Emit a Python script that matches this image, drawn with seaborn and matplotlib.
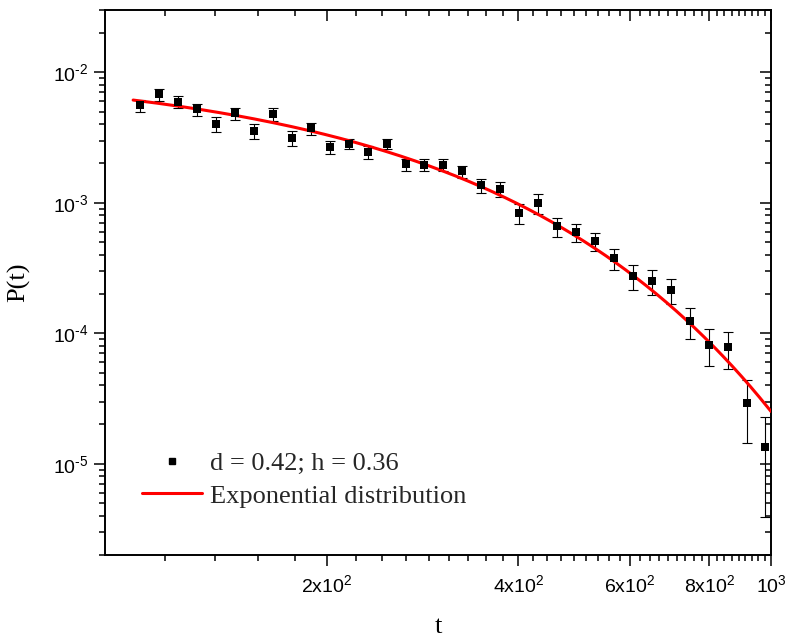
import numpy as np
import matplotlib
matplotlib.use("Agg")
import matplotlib.pyplot as plt
import seaborn as sns
from matplotlib.lines import Line2D
from matplotlib.ticker import FixedLocator, FixedFormatter, LogLocator, NullFormatter

# Measured waiting-time distribution
t = [101.6, 108.8, 116.6, 124.9, 133.7, 143.2, 153.4, 164.3, 176.0, 188.5,
     201.9, 216.3, 231.7, 248.1, 265.8, 284.7, 304.9, 326.6, 349.8, 374.7,
     401.3, 429.9, 460.4, 493.2, 528.2, 565.8, 606.0, 649.1, 695.2, 744.7,
     797.6, 854.3, 915.1, 980.2]
p = [5.59e-3, 6.78e-3, 5.94e-3, 5.21e-3, 4.03e-3, 4.85e-3, 3.56e-3, 4.77e-3,
     3.12e-3, 3.72e-3, 2.66e-3, 2.81e-3, 2.44e-3, 2.81e-3, 1.97e-3, 1.95e-3,
     1.95e-3, 1.74e-3, 1.36e-3, 1.27e-3, 8.31e-4, 9.91e-4, 6.61e-4, 5.94e-4,
     5.07e-4, 3.76e-4, 2.74e-4, 2.50e-4, 2.14e-4, 1.24e-4, 8.2e-5, 7.8e-5,
     2.9e-5, 1.34e-5]
p_err = [5.9e-4, 7.2e-4, 6.3e-4, 5.5e-4, 5.2e-4, 5.1e-4, 4.6e-4, 5.1e-4,
         4.0e-4, 3.9e-4, 2.9e-4, 2.5e-4, 2.6e-4, 2.5e-4, 2.1e-4, 2.1e-4,
         2.1e-4, 1.8e-4, 1.7e-4, 1.6e-4, 1.4e-4, 1.7e-4, 1.1e-4, 9.0e-5,
         8.0e-5, 7.0e-5, 5.8e-5, 5.3e-5, 4.5e-5, 3.3e-5, 2.6e-5, 2.45e-5,
         1.46e-5, 0.95e-5]

# Exponential model P(t) = A exp(-t / tau)
fit_amp = 1.12e-2
fit_tau = 164.0
fit_range = (99.0, 1000.0)

data_label = "d = 0.42; h = 0.36"
fit_label = "Exponential distribution"

x_major = [200, 400, 600, 800, 1000]
x_major_labels = [r"$\mathregular{2x10^{2}}$", r"$\mathregular{4x10^{2}}$",
                  r"$\mathregular{6x10^{2}}$", r"$\mathregular{8x10^{2}}$",
                  r"$\mathregular{10^{3}}$"]
y_major = [1e-5, 1e-4, 1e-3, 1e-2]
y_major_labels = [r"$\mathregular{10^{\text{-}5}}$", r"$\mathregular{10^{\text{-}4}}$",
                  r"$\mathregular{10^{\text{-}3}}$", r"$\mathregular{10^{\text{-}2}}$"]

sns.set_theme(style="ticks")
plt.rcParams["font.family"] = ["Liberation Sans", "DejaVu Sans"]
plt.rcParams["mathtext.fontset"] = "custom"
plt.rcParams["mathtext.rm"] = "Liberation Sans"
plt.rcParams["mathtext.it"] = "Liberation Sans:italic"
plt.rcParams["mathtext.bf"] = "Liberation Sans:bold"

serif = ["Liberation Serif", "DejaVu Serif"]

fig = plt.figure(figsize=(7.88, 6.43), dpi=100)
ax = fig.add_axes([105 / 788, 1 - 555 / 643, 666 / 788, 545 / 643])

ax.errorbar(t, p, yerr=p_err, fmt="none", ecolor="black", elinewidth=0.8,
            capsize=3.6, capthick=0.8, zorder=2)

fit_t = np.linspace(fit_range[0], fit_range[1], 400)
fit_p = fit_amp * np.exp(-fit_t / fit_tau)
sns.lineplot(x=fit_t, y=fit_p, color="#ff0000", linewidth=2.2, ax=ax,
             zorder=3, legend=False)

sns.scatterplot(x=t, y=p, marker="s", s=26, color="black", edgecolor="black",
                linewidth=0, ax=ax, zorder=4, legend=False)

ax.set_xscale("log")
ax.set_yscale("log")
ax.set_xlim(89.4, 1000)
ax.set_ylim(2e-6, 3e-2)

ax.xaxis.set_major_locator(FixedLocator(x_major))
ax.xaxis.set_major_formatter(FixedFormatter(x_major_labels))
step = 200 / 9
x_minor = [k * step for k in range(5, 45) if k % 9 != 0]
ax.xaxis.set_minor_locator(FixedLocator(x_minor))
ax.xaxis.set_minor_formatter(NullFormatter())

ax.yaxis.set_major_locator(FixedLocator(y_major))
ax.yaxis.set_major_formatter(FixedFormatter(y_major_labels))
ax.yaxis.set_minor_locator(LogLocator(base=10, subs=np.arange(2, 10), numticks=20))
ax.yaxis.set_minor_formatter(NullFormatter())

for side in ["left", "right", "top", "bottom"]:
    ax.spines[side].set_visible(True)
    ax.spines[side].set_linewidth(1.4)
    ax.spines[side].set_color("black")

ax.tick_params(which="both", direction="out", color="black", width=1.1,
               labelsize=14, labelcolor="black", top=False, right=False)
ax.tick_params(which="major", length=8)
ax.tick_params(which="minor", length=4.5)
ax.tick_params(axis="x", which="major", pad=6)
ax.tick_params(axis="y", which="major", pad=4)

# Inward ticks on the opposite axes
ax_r = ax.secondary_yaxis("right")
ax_r.yaxis.set_major_locator(FixedLocator(y_major))
ax_r.yaxis.set_minor_locator(LogLocator(base=10, subs=np.arange(2, 10), numticks=20))
ax_r.yaxis.set_major_formatter(NullFormatter())
ax_r.yaxis.set_minor_formatter(NullFormatter())
ax_r.tick_params(which="both", direction="in", width=1.1, color="black")
ax_r.tick_params(which="major", length=8)
ax_r.tick_params(which="minor", length=4.5)
ax_r.spines["right"].set_visible(False)

ax_t = ax.secondary_xaxis("top")
ax_t.xaxis.set_major_locator(FixedLocator(x_major))
ax_t.xaxis.set_minor_locator(FixedLocator(x_minor))
ax_t.xaxis.set_major_formatter(NullFormatter())
ax_t.xaxis.set_minor_formatter(NullFormatter())
ax_t.tick_params(which="both", direction="in", width=1.1, color="black")
ax_t.tick_params(which="major", length=8)
ax_t.tick_params(which="minor", length=4.5)
ax_t.spines["top"].set_visible(False)

ax.set_xlabel("t", fontfamily=serif, fontsize=19, color="black")
ax.set_ylabel("P(t)", fontfamily=serif, fontsize=19, color="black")
ax.xaxis.set_label_coords(0.5, -0.112)
ax.yaxis.set_label_coords(-0.112, 0.5)

handles = [
    Line2D([], [], marker="s", color="black", linestyle="none", markersize=4.5),
    Line2D([], [], color="#ff0000", linewidth=2.2),
]
ax.legend(handles, [data_label, fit_label], loc="upper left",
          bbox_to_anchor=(0.055, 0.19), frameon=False,
          prop={"family": serif, "size": 19}, handlelength=2.3,
          handletextpad=0.3, labelspacing=0.35, borderpad=0, borderaxespad=0)

fig.savefig("out.png", dpi=100, facecolor="white")
